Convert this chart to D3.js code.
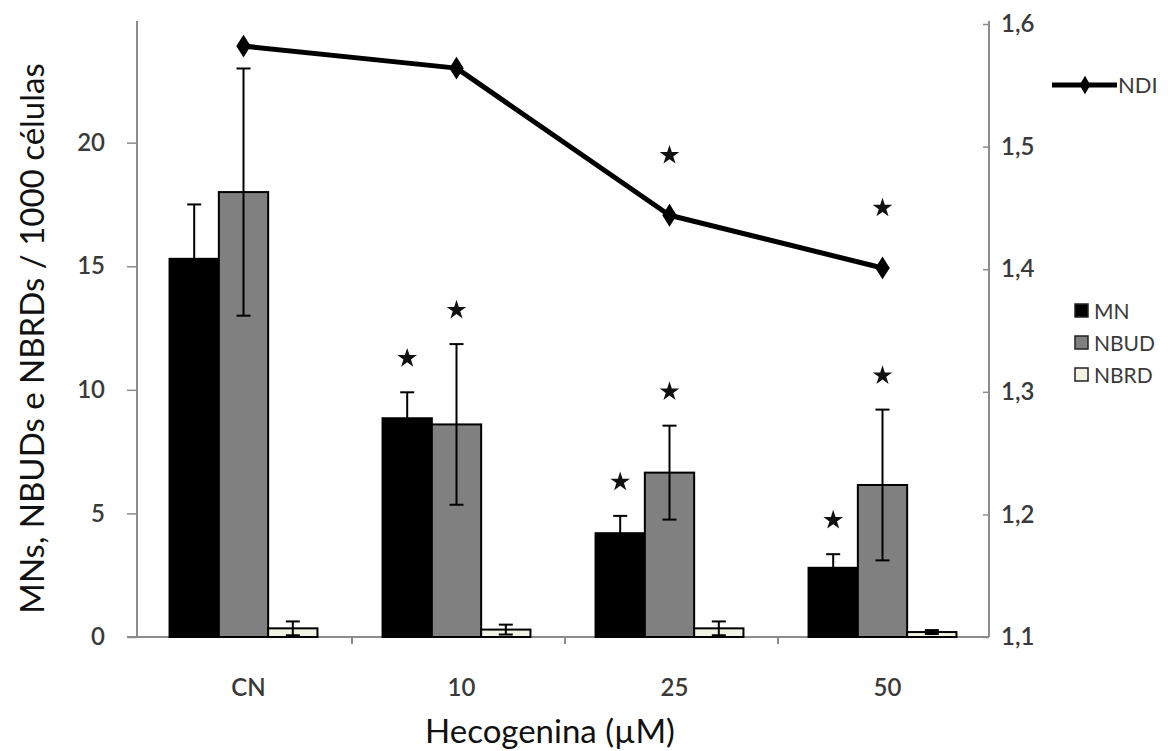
<!DOCTYPE html>
<html>
<head>
<meta charset="utf-8">
<script src="https://cdn.jsdelivr.net/npm/d3@7"></script>
<style>
  html, body { margin: 0; padding: 0; background: #fff; }
  svg { display: block; }
  text { font-family: Lato, "Open Sans", sans-serif; }
</style>
</head>
<body>
<svg id="chart" width="1171" height="751"></svg>
<script>
// ---- data ----
const categories = ["CN", "10", "25", "50"];
const seriesNames = ["MN", "NBUD", "NBRD"];
const mnValues   = [15.3, 8.85, 4.2, 2.8];
const mnErrors   = [2.2, 1.05, 0.7, 0.55];
const nbudValues = [18.0, 8.6, 6.65, 6.15];
const nbudErrors = [5.0, 3.25, 1.9, 3.05];
const nbrdValues = [0.35, 0.3, 0.35, 0.2];
const nbrdErrors = [0.28, 0.2, 0.28, 0.08];
const ndiValues  = [1.582, 1.564, 1.444, 1.401];
const mnSig   = [false, true, true, true];
const nbudSig = [false, true, true, true];
const ndiSig  = [false, false, true, true];
const leftTicks  = [0, 5, 10, 15, 20];
const rightTicks = [1.1, 1.2, 1.3, 1.4, 1.5, 1.6];
const yLeftTitle  = "MNs, NBUDs e NBRDs / 1000 células";
const xTitle = "Hecogenina (\u00B5M)";

// ---- layout ----
const svg = d3.select("#chart");
const L = 137, R = 989, T = 24, B = 637;
const fills = { MN: "#000000", NBUD: "#808080", NBRD: "#f3f3e4" };

const x0 = d3.scaleBand().domain(categories).range([L, R]).padding(0);
const x1 = d3.scaleBand().domain(seriesNames).range([0, x0.bandwidth()])
  .paddingInner(0).paddingOuter(0.66);
const yL = d3.scaleLinear().domain([0, 24.8]).range([B, T]);
const yR = d3.scaleLinear().domain([1.1, 1.6]).range([B, T]);

const series = [
  { name: "MN", values: mnValues, errors: mnErrors, sig: mnSig },
  { name: "NBUD", values: nbudValues, errors: nbudErrors, sig: nbudSig },
  { name: "NBRD", values: nbrdValues, errors: nbrdErrors, sig: null }
];

// ---- axes ----
const axisColor = "#8c8c8c";
const gL = svg.append("g").attr("transform", `translate(${L},0)`)
  .call(d3.axisLeft(yL).tickValues(leftTicks).tickSize(10).tickPadding(22).tickFormat(d3.format("d")));
gL.select(".domain").attr("d", `M0,${T - 3}V${B}`);
const gR = svg.append("g").attr("transform", `translate(${R},0)`)
  .call(d3.axisRight(yR).tickValues(rightTicks).tickSize(0).tickPadding(12)
    .tickFormat(d => d3.format(".1f")(d).replace(".", ",")));
gR.selectAll(".tick").append("line").attr("x1", 0).attr("x2", -6);
gR.select(".domain").attr("d", `M0,${T - 3}V${B}`);

const gX = svg.append("g").attr("transform", `translate(0,${B})`);
gX.append("line").attr("x1", L - 10).attr("x2", R).attr("y1", 0).attr("y2", 0);
gX.selectAll("line.sep").data(categories.slice(1)).enter().append("line")
  .attr("class", "sep")
  .attr("x1", d => x0(d) + 2).attr("x2", d => x0(d) + 2).attr("y1", 0).attr("y2", 7);
gX.selectAll("text").data(categories).enter().append("text")
  .attr("x", d => x0(d) + x0.bandwidth() / 2 + 5)
  .attr("y", 59)
  .attr("text-anchor", "middle")
  .attr("font-size", 24)
  .attr("font-weight", 600)
  .attr("fill", "#3a3a3a")
  .text(d => d);

[gL, gR].forEach(g => {
  g.selectAll(".domain").attr("stroke", axisColor).attr("stroke-width", 2);
  g.selectAll(".tick line").attr("stroke", axisColor).attr("stroke-width", 1.5);
  g.selectAll(".tick text").attr("font-size", 24).attr("font-weight", 600).attr("fill", "#3a3a3a")
    .attr("font-family", "Lato, 'Open Sans', sans-serif");
});
gX.selectAll("line").attr("stroke", axisColor).attr("stroke-width", 2);

// ---- bars ----
const gBars = svg.append("g");
series.forEach(s => {
  const g = gBars.append("g");
  g.selectAll("rect").data(categories).enter().append("rect")
    .attr("x", d => x0(d) + x1(s.name))
    .attr("width", x1.bandwidth())
    .attr("y", (d, i) => yL(s.values[i]))
    .attr("height", (d, i) => B - yL(s.values[i]))
    .attr("fill", fills[s.name])
    .attr("stroke", "#000")
    .attr("stroke-width", 2);
});
// error bars
series.forEach(s => {
  const g = gBars.append("g").attr("stroke", "#000").attr("stroke-width", 2);
  categories.forEach((c, i) => {
    const cx = x0(c) + x1(s.name) + x1.bandwidth() / 2;
    const hi = yL(s.values[i] + s.errors[i]);
    const lo = yL(Math.max(0, s.values[i] - s.errors[i]));
    g.append("line").attr("x1", cx).attr("x2", cx).attr("y1", hi).attr("y2", lo);
    g.append("line").attr("x1", cx - 7).attr("x2", cx + 7).attr("y1", hi).attr("y2", hi);
    g.append("line").attr("x1", cx - 7).attr("x2", cx + 7).attr("y1", lo).attr("y2", lo);
  });
});

// ---- significance stars ----
const star = d3.symbol().type(d3.symbolStar).size(120);
series.forEach(s => {
  if (!s.sig) return;
  categories.forEach((c, i) => {
    if (!s.sig[i]) return;
    const cx = x0(c) + x1(s.name) + x1.bandwidth() / 2;
    const y = yL(s.values[i] + s.errors[i]) - 34;
    svg.append("path").attr("d", star()).attr("fill", "#111")
      .attr("transform", `translate(${cx},${y})`);
  });
});

// ---- NDI line ----
const cxCat = c => x0(c) + x0.bandwidth() / 2;
const line = d3.line().x((d, i) => cxCat(categories[i])).y(d => yR(d));
svg.append("path").datum(ndiValues).attr("d", line)
  .attr("fill", "none").attr("stroke", "#000").attr("stroke-width", 5)
  .attr("stroke-linejoin", "round");
const diamond = d3.symbol().type(d3.symbolDiamond).size(150);
svg.selectAll("path.ndi").data(ndiValues).enter().append("path")
  .attr("class", "ndi")
  .attr("d", diamond())
  .attr("fill", "#000")
  .attr("transform", (d, i) => `translate(${cxCat(categories[i])},${yR(d)}) scale(1.1,1)`);
ndiValues.forEach((d, i) => {
  if (!ndiSig[i]) return;
  svg.append("path").attr("d", star()).attr("fill", "#111")
    .attr("transform", `translate(${cxCat(categories[i])},${yR(d) - 60})`);
});

// ---- legend ----
const lg = svg.append("g");
lg.append("line").attr("x1", 1052).attr("x2", 1117).attr("y1", 85).attr("y2", 85)
  .attr("stroke", "#000").attr("stroke-width", 5);
lg.append("path").attr("d", d3.symbol().type(d3.symbolDiamond).size(100)())
  .attr("transform", "translate(1085,85)").attr("fill", "#000");
lg.append("text").attr("x", 1118).attr("y", 93).attr("font-size", 22).attr("fill", "#3a3a3a").text("NDI");
seriesNames.forEach((n, i) => {
  const yy = 311 + i * 32;
  lg.append("rect").attr("x", 1075).attr("y", yy - 7).attr("width", 13).attr("height", 13)
    .attr("fill", fills[n]).attr("stroke", "#222").attr("stroke-width", 1.5);
  lg.append("text").attr("x", 1094).attr("y", yy + 8).attr("font-size", 21).attr("fill", "#3a3a3a").text(n);
});

// ---- titles ----
svg.append("text")
  .attr("transform", `translate(44,${(T + B) / 2 + 8}) rotate(-90)`)
  .attr("text-anchor", "middle")
  .attr("font-size", 33)
  .attr("fill", "#111")
  .text(yLeftTitle);
svg.append("text")
  .attr("x", 550).attr("y", 743)
  .attr("text-anchor", "middle")
  .attr("font-size", 33)
  .attr("fill", "#111")
  .text(xTitle);
</script>
</body>
</html>
